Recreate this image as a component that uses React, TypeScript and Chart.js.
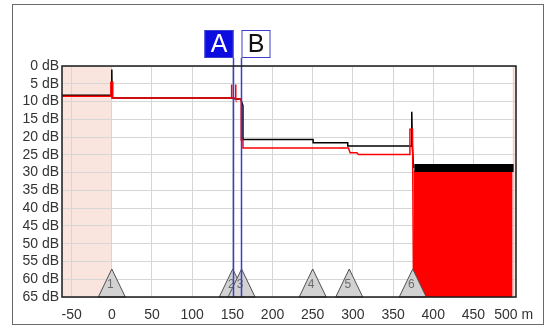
import React, { useEffect, useRef } from "react";
import { Chart, registerables } from "chart.js";

Chart.register(...registerables);

// ---- data ----
const xTickValues = [-50, 0, 50, 100, 150, 200, 250, 300, 350, 400, 450, 500];
const yTickValues = [0, 5, 10, 15, 20, 25, 30, 35, 40, 45, 50, 55, 60, 65];
const xRange = [-62, 503];
const yRange = [0, 65];
const xUnit = "m";
const yUnit = "dB";

const blackTrace: [number, number][] = [
  [-62, 8.2], [-0.4, 8.2], [0, 1.0], [0.4, 9.0], [148.6, 9.0], [154.5, 9.3],
  [160.5, 9.3], [163.2, 11.2], [163.2, 20.7], [250.5, 20.7], [250.5, 21.6],
  [293.6, 21.6], [293.6, 22.5], [372.6, 22.5], [373.3, 12.9], [374.0, 22.5],
  [374.6, 22.5], [375.5, 28.7],
];

const redTrace: [number, number][] = [
  [-62, 8.5], [-1.2, 8.5], [-1.2, 4.6], [1.2, 4.6], [1.2, 9.0], [148.6, 9.0],
  [148.6, 5.2], [149.4, 5.2], [149.4, 9.0], [153.7, 9.0], [153.7, 5.2],
  [154.5, 5.2], [154.5, 9.3], [161, 9.3], [161, 20.8], [163.2, 20.8],
  [163.2, 23.1], [294.5, 23.1], [296.5, 24.4], [305, 24.4], [307, 24.9],
  [371, 24.9], [371, 17.8], [374.2, 17.8], [375.5, 65],
];

const blackNoise: [number, number][] = [[376.5, 28.7], [500, 28.7]];
const redNoiseFloor: [number, number][] = [[375.5, 29.5], [498.8, 29.5]];

const eventPositions = [0, 150.5, 161.5, 250, 295.5, 374.5];
const eventLabels = ["1", "2", "3", "4", "5", "6"];

const cursorA = 150.5;
const cursorB = 161;
const deadZoneStart = [-62, 0];
const deadZoneEnd = [498.8, 503];

const FONT = "'Liberation Sans', Arial, sans-serif";

const toPts = (arr: [number, number][]) => arr.map(([x, y]) => ({ x, y }));

const decorPlugin = {
  id: "decor",
  beforeDraw(chart: any) {
    const { ctx, chartArea, scales } = chart;
    const xs = scales.x;
    ctx.save();
    ctx.fillStyle = "#ffffff";
    ctx.fillRect(0, 0, chart.width, chart.height);
    ctx.fillStyle = "#f9e4de";
    for (const z of [deadZoneStart, deadZoneEnd]) {
      const x0 = xs.getPixelForValue(z[0]);
      const x1 = xs.getPixelForValue(z[1]);
      ctx.fillRect(x0, chartArea.top, x1 - x0, chartArea.bottom - chartArea.top);
    }
    ctx.strokeStyle = "#6a6a6a";
    ctx.lineWidth = 1;
    ctx.strokeRect(12.5, 4.5, 531, 320);
    ctx.restore();
  },
  afterDatasetsDraw(chart: any) {
    const { ctx, chartArea, scales } = chart;
    const xs = scales.x;
    ctx.save();
    const h = 28;
    const hw = 13.5;
    eventPositions.forEach((pos, i) => {
      const px = xs.getPixelForValue(pos);
      const base = chartArea.bottom;
      ctx.beginPath();
      ctx.moveTo(px, base - h);
      ctx.lineTo(px + hw, base);
      ctx.lineTo(px - hw, base);
      ctx.closePath();
      ctx.fillStyle = "#d2d2d2";
      ctx.fill();
      ctx.strokeStyle = "#505050";
      ctx.lineWidth = 1;
      ctx.stroke();
      ctx.fillStyle = "#6c6c6c";
      ctx.font = `12px ${FONT}`;
      ctx.textAlign = "center";
      ctx.textBaseline = "middle";
      ctx.fillText(eventLabels[i], px - 1.5, base - 12);
    });
    const boxW = 29;
    const boxTop = 30;
    const boxBottom = 58;
    const ax = Math.round(xs.getPixelForValue(cursorA)) + 0.5;
    const bx = Math.round(xs.getPixelForValue(cursorB)) + 0.5;
    ctx.strokeStyle = "#3c3cd2";
    ctx.lineWidth = 1.5;
    for (const x of [ax, bx]) {
      ctx.beginPath();
      ctx.moveTo(x, boxBottom);
      ctx.lineTo(x, chartArea.bottom);
      ctx.stroke();
    }
    ctx.fillStyle = "#0c0ce0";
    ctx.fillRect(ax - boxW, boxTop, boxW, boxBottom - boxTop);
    ctx.strokeStyle = "#3c3cd2";
    ctx.lineWidth = 1;
    ctx.strokeRect(ax - boxW + 0.5, boxTop + 0.5, boxW - 1, boxBottom - boxTop - 1);
    ctx.font = `25px ${FONT}`;
    ctx.textAlign = "center";
    ctx.textBaseline = "middle";
    ctx.fillStyle = "#ffffff";
    ctx.fillText("A", ax - boxW / 2, (boxTop + boxBottom) / 2 + 1);
    ctx.fillStyle = "#ffffff";
    ctx.fillRect(bx, boxTop, boxW, boxBottom - boxTop);
    ctx.strokeStyle = "#3c3cd2";
    ctx.strokeRect(bx + 0.5, boxTop + 0.5, boxW - 1, boxBottom - boxTop - 1);
    ctx.fillStyle = "#111111";
    ctx.fillText("B", bx + boxW / 2, (boxTop + boxBottom) / 2 + 1);
    ctx.strokeStyle = "#1a1a1a";
    ctx.lineWidth = 1.5;
    ctx.strokeRect(chartArea.left, chartArea.top, chartArea.right - chartArea.left, chartArea.bottom - chartArea.top);
    ctx.restore();
  },
};

export default function App() {
  const ref = useRef<HTMLCanvasElement | null>(null);
  useEffect(() => {
    if (!ref.current) return;
    const lastX = xTickValues[xTickValues.length - 1];
    const chart = new Chart(ref.current, {
      type: "line",
      data: {
        datasets: [
          { data: toPts(redTrace), borderColor: "#ff0000", borderWidth: 1.5, pointRadius: 0, tension: 0, fill: false, order: 0 },
          { data: toPts(blackNoise), borderColor: "#000000", borderWidth: 8, pointRadius: 0, fill: false, order: 1 },
          { data: toPts(blackTrace), borderColor: "#000000", borderWidth: 1.5, pointRadius: 0, tension: 0, fill: false, order: 2 },
          {
            data: toPts(redNoiseFloor),
            borderColor: "#ff0000",
            backgroundColor: "#ff0000",
            borderWidth: 0,
            pointRadius: 0,
            fill: { value: yRange[1] },
            order: 3,
          },
        ] as any,
      },
      options: {
        responsive: false,
        animation: false,
        devicePixelRatio: 1,
        layout: { padding: { top: 66, right: 33, left: 0, bottom: 0 } },
        plugins: { legend: { display: false }, tooltip: { enabled: false } },
        scales: {
          x: {
            type: "linear",
            min: xRange[0],
            max: xRange[1],
            afterFit: (s: any) => { s.height = 29; },
            afterBuildTicks: (s: any) => { s.ticks = xTickValues.map((v) => ({ value: v })); },
            grid: { color: "#d6d6d6", lineWidth: 1, drawTicks: false },
            border: { display: false },
            ticks: {
              font: { family: FONT, size: 14 },
              color: "#333333",
              padding: 10,
              maxRotation: 0,
              autoSkip: false,
              callback: (v: any) => (v === lastX ? `${v} ${xUnit}` : `${v}`),
            },
          },
          y: {
            type: "linear",
            reverse: true,
            min: yRange[0],
            max: yRange[1],
            afterFit: (s: any) => { s.width = 62; },
            afterBuildTicks: (s: any) => { s.ticks = yTickValues.map((v) => ({ value: v })); },
            grid: { color: "#d6d6d6", lineWidth: 1, drawTicks: false },
            border: { display: false },
            ticks: {
              font: { family: FONT, size: 14 },
              color: "#333333",
              padding: 3,
              autoSkip: false,
              callback: (v: any) => `${v} ${yUnit}`,
            },
          },
        },
      },
      plugins: [decorPlugin],
    });
    return () => chart.destroy();
  }, []);
  return (
    <div style={{ position: "absolute", left: 0, top: 0, width: 549, height: 326 }}>
      <canvas ref={ref} width={549} height={326} style={{ display: "block", width: 549, height: 326 }} />
    </div>
  );
}
